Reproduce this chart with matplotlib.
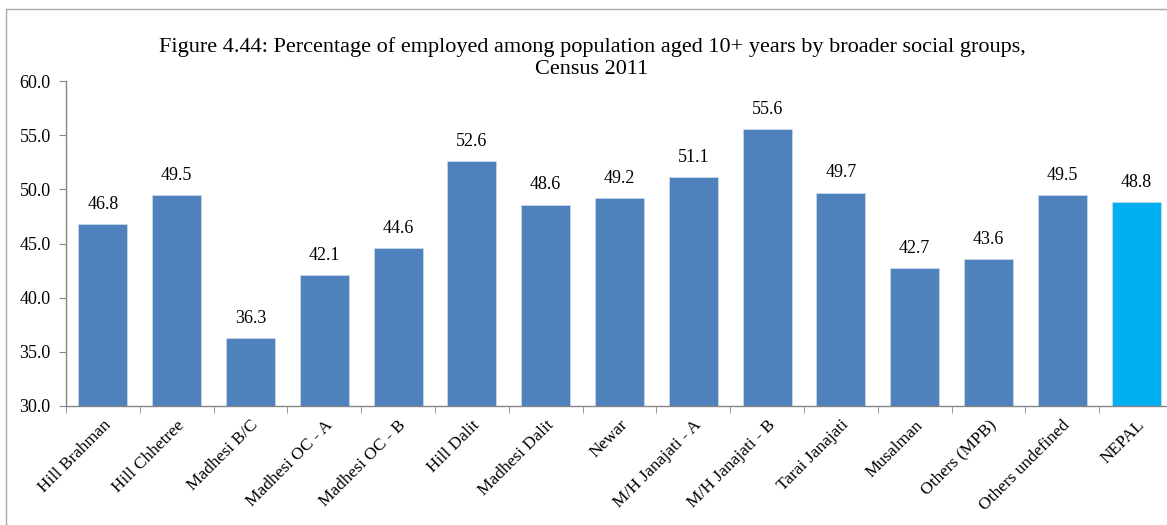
import matplotlib
matplotlib.use("Agg")
import matplotlib.pyplot as plt
import numpy as np
from matplotlib.patches import Rectangle

categories = ["Hill Brahman", "Hill Chhetree", "Madhesi B/C", "Madhesi OC - A", "Madhesi OC - B",
              "Hill Dalit", "Madhesi Dalit", "Newar", "M/H Janajati - A", "M/H Janajati - B",
              "Tarai Janajati", "Musalman", "Others (MPB)", "Others undefined", "NEPAL"]
values = [46.8, 49.5, 36.3, 42.1, 44.6, 52.6, 48.6, 49.2, 51.1, 55.6, 49.7, 42.7, 43.6, 49.5, 48.8]
yticks = [30, 35, 40, 45, 50, 55, 60]
title = "Figure 4.44: Percentage of employed among population aged 10+ years by broader social groups,\nCensus 2011"

plt.rcParams['font.family'] = ['Liberation Serif', 'DejaVu Serif']

W, H = 1167, 525
fig = plt.figure(figsize=(W / 100, H / 100), dpi=100)

# chart border
fig.patches.append(Rectangle((6 / W, -0.05), 1.2, 1 - 9 / H + 0.05, transform=fig.transFigure,
                             fill=False, edgecolor='#a6a6a6', linewidth=1.0))

left, right = 66, 1173
ax = fig.add_axes([left / W, 1 - 406 / H, (right - left) / W, (406 - 81) / H])

colors = ['#4F81BD'] * (len(values) - 1) + ['#00B0F0']
x = np.arange(len(categories))
ax.bar(x, values, width=0.665, color=colors, edgecolor='#c9d7ea', linewidth=0.6)

ax.set_ylim(30, 60)
ax.set_xlim(-0.5, len(categories) - 0.5)
ax.set_yticks(yticks)
ax.set_yticklabels([f"{v:.1f}" for v in yticks], fontsize=13)

ax.set_xticks(x)
ax.set_xticklabels(categories, rotation=45, ha='right', rotation_mode='anchor', fontsize=12.5)
ax.tick_params(axis='x', which='major', length=0, pad=8)
ax.set_xticks(np.arange(-0.5, len(categories), 1), minor=True)
ax.tick_params(axis='x', which='minor', length=5, color='#868686', direction='out')
ax.tick_params(axis='y', length=5, color='#868686', direction='out', pad=6)

for s in ['top', 'right']:
    ax.spines[s].set_visible(False)
for s in ['left', 'bottom']:
    ax.spines[s].set_color('#868686')
    ax.spines[s].set_linewidth(1.0)

for xi, v in zip(x, values):
    ax.annotate(f"{v:.1f}", (xi, v), xytext=(0, 8), textcoords='offset points',
                ha='center', va='bottom', fontsize=13)

fig.text(592 / W, 1 - 58 / H, title, ha='center', va='center', fontsize=16, linespacing=1.15)

fig.savefig("out.png", dpi=100)
